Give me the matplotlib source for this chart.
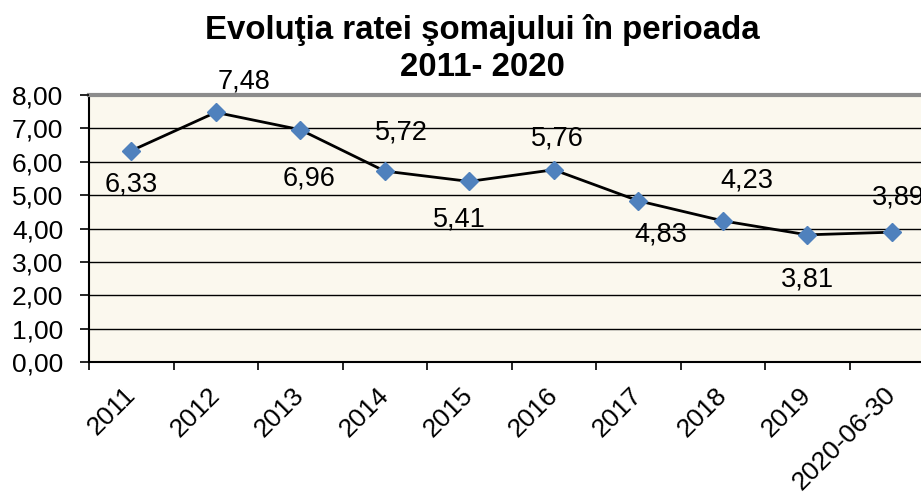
import matplotlib
matplotlib.use("Agg")
import matplotlib.pyplot as plt
import numpy as np

categories = ["2011", "2012", "2013", "2014", "2015", "2016", "2017", "2018", "2019", "2020-06-30"]
rates = [6.33, 7.48, 6.96, 5.72, 5.41, 5.76, 4.83, 4.23, 3.81, 3.89]
y_ticks = [0, 1, 2, 3, 4, 5, 6, 7, 8]

# label offsets in pixels (dx, dy downward positive), layout only
label_dx = [0, 28, 9, 17, -10, 4, 23, 24, 0, 7]
label_dy = [34, -31, 49, -39, 38, -31, 34, -40, 45, -35]

plt.rcParams['font.family'] = ['Liberation Sans', 'DejaVu Sans']

W, H = 921, 494
fig = plt.figure(figsize=(W / 100, H / 100), dpi=100)
fig.patch.set_facecolor("white")
ax = fig.add_axes([89 / W, 132 / H, 845 / W, 267 / H])
ax.set_facecolor("#FBF8EE")

x = np.arange(len(categories))
ax.set_xlim(-0.5, len(categories) - 0.5)
ax.set_ylim(0, 8)

for t in y_ticks:
    ax.axhline(t, color="black", lw=1.0, zorder=1)

ax.plot(x, rates, color="black", lw=2.0, zorder=3,
        marker="D", markersize=9, markerfacecolor="#4F81BD",
        markeredgecolor="#4F81BD")

def fmt(v):
    return f"{v:.2f}".replace(".", ",")

for xi, v, dx, dy in zip(x, rates, label_dx, label_dy):
    ax.annotate(fmt(v), (xi, v), xytext=(dx, -dy), textcoords="offset pixels",
                ha="center", va="center", fontsize=19.5, color="black", zorder=4,
                annotation_clip=False)

ax.set_yticks(y_ticks)
ax.set_yticklabels([fmt(t) for t in y_ticks], fontsize=19)
ax.tick_params(axis="y", direction="out", length=6.5, width=1.2, pad=12, colors="black")

ax.set_xticks(np.arange(-0.5, len(categories), 1.0))
ax.set_xticklabels([])
ax.tick_params(axis="x", which="major", direction="out", length=6, width=1.2)
ax.set_xticks(x, minor=True)
ax.set_xticklabels(categories, minor=True, fontsize=19, rotation=45,
                   ha="right", va="center", rotation_mode="anchor")
ax.tick_params(axis="x", which="minor", length=0, pad=21)

for s in ["left", "bottom"]:
    ax.spines[s].set_color("black")
    ax.spines[s].set_linewidth(1.5)
ax.spines["top"].set_color("#8C8C8C")
ax.spines["top"].set_linewidth(3)
ax.spines["right"].set_visible(False)
ax.set_axisbelow(False)

fig.text(482 / W, 1 - 30 / H, "Evoluţia ratei şomajului în perioada",
         ha="center", va="center", fontsize=23.8, fontweight="bold")
fig.text(482 / W, 1 - 68 / H, "2011- 2020",
         ha="center", va="center", fontsize=23.8, fontweight="bold")

fig.savefig("out.png", dpi=100, facecolor="white")
